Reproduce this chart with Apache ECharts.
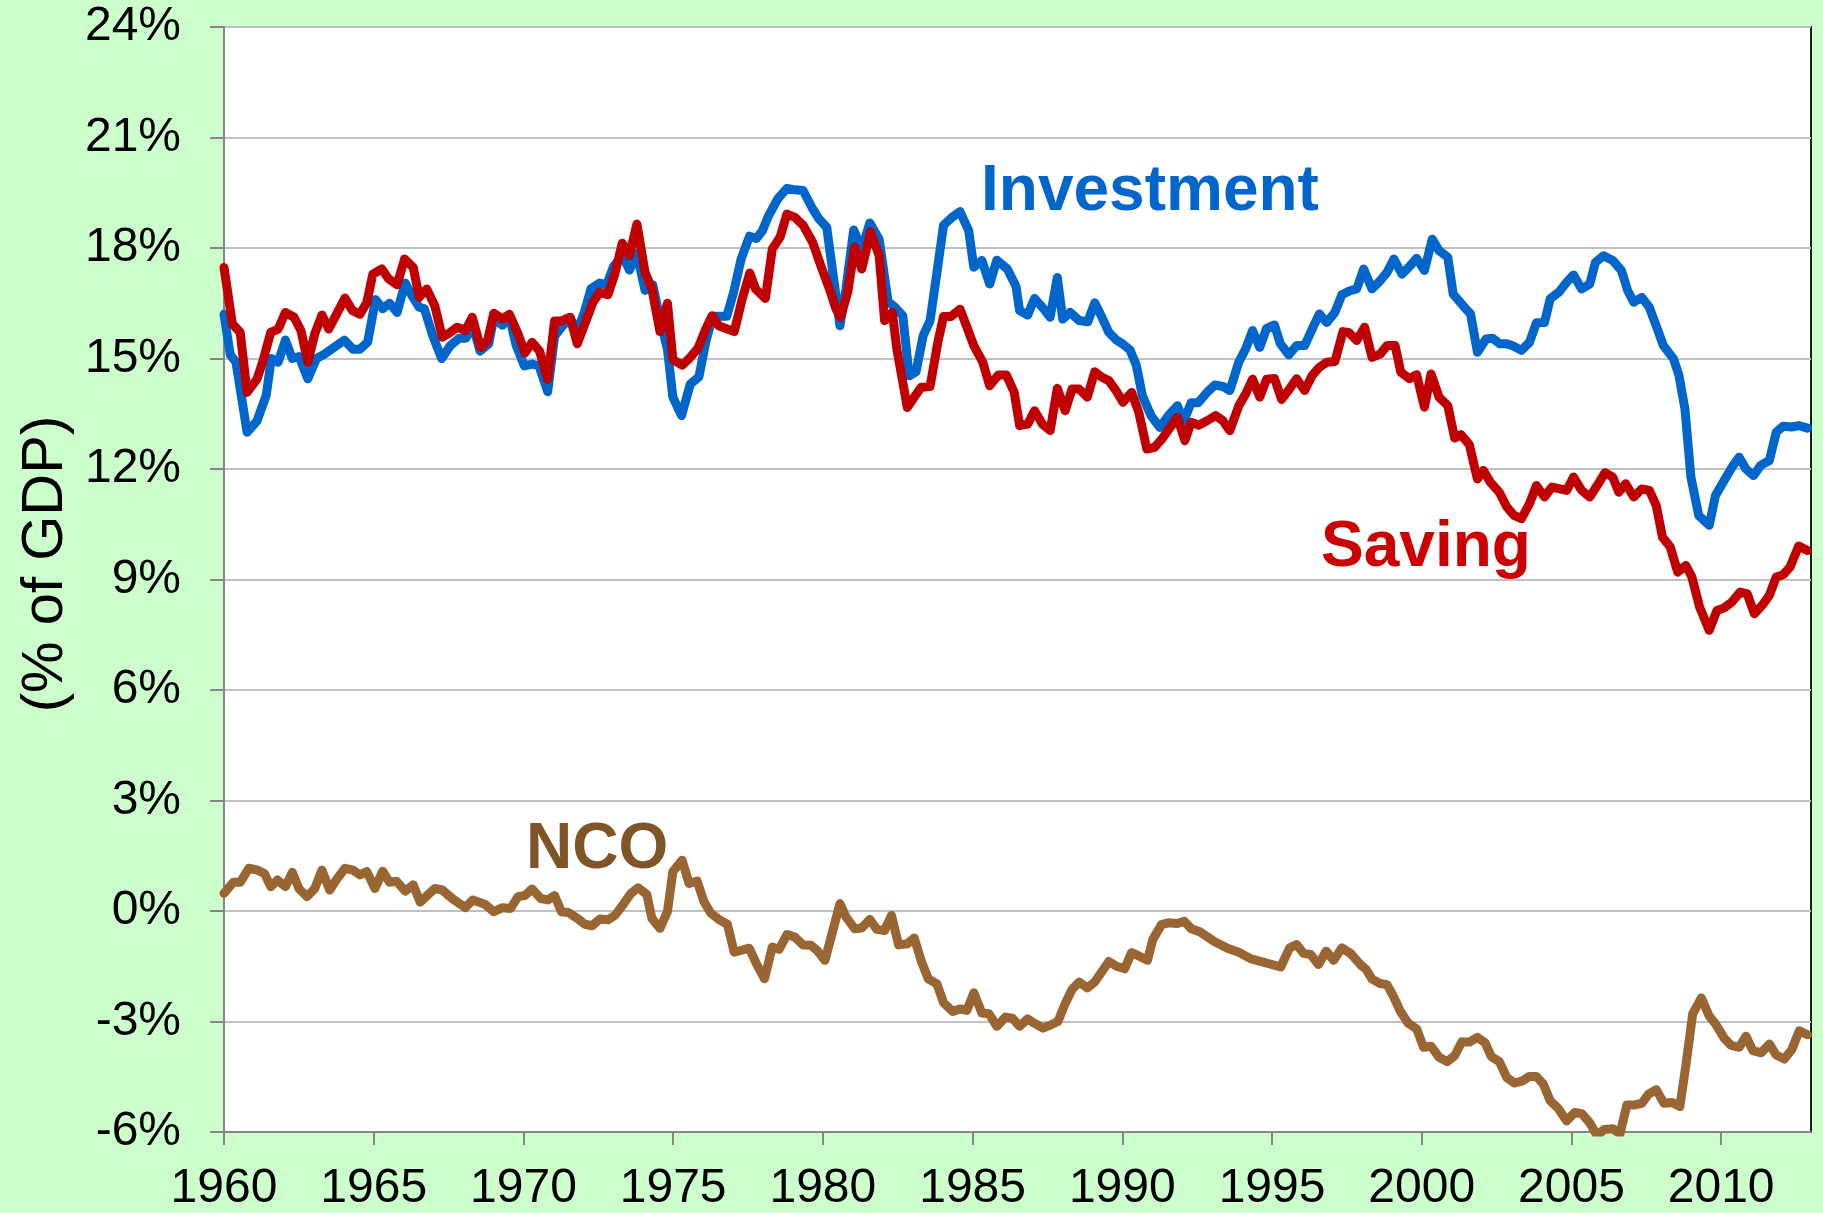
<!DOCTYPE html>
<html>
<head>
<meta charset="utf-8">
<script src="https://cdn.jsdelivr.net/npm/echarts@6/dist/echarts.min.js"></script>
<style>
  html, body { margin: 0; padding: 0; background: #ccffcc; }
  #main { width: 1823px; height: 1213px; }
</style>
</head>
<body>
<div id="main"></div>
<script>
// values, [year, % of GDP]
const investment = [
  [1960.00, 16.2], [1960.21, 15.1], [1960.40, 14.9], [1960.77, 13.0], [1961.10, 13.3], [1961.41, 14.0],
  [1961.58, 15.0], [1961.81, 14.9], [1962.05, 15.5], [1962.28, 15.0], [1962.51, 15.05], [1962.80, 14.45],
  [1963.09, 15.0], [1963.32, 15.1], [1963.67, 15.3], [1964.02, 15.5], [1964.31, 15.25], [1964.54, 15.25],
  [1964.80, 15.45], [1965.06, 16.6], [1965.30, 16.35], [1965.53, 16.5], [1965.78, 16.25], [1966.05, 17.05],
  [1966.28, 16.7], [1966.51, 16.4], [1966.69, 16.35], [1966.98, 15.6], [1967.27, 15.0], [1967.56, 15.35],
  [1967.85, 15.55], [1968.08, 15.55], [1968.31, 15.9], [1968.55, 15.2], [1968.84, 15.4], [1969.01, 16.1],
  [1969.30, 15.9], [1969.53, 16.15], [1969.76, 15.35], [1970.03, 14.8], [1970.29, 14.85], [1970.52, 14.8],
  [1970.81, 14.1], [1971.04, 15.6], [1971.27, 15.85], [1971.56, 16.1], [1971.80, 15.75], [1972.03, 16.25],
  [1972.26, 16.9], [1972.55, 17.05], [1972.78, 17.0], [1973.01, 17.5], [1973.30, 17.8], [1973.54, 17.4],
  [1973.79, 17.85], [1974.06, 16.85], [1974.32, 17.0], [1974.58, 16.0], [1974.81, 15.25], [1974.99, 13.95],
  [1975.28, 13.45], [1975.57, 14.3], [1975.86, 14.5], [1976.09, 15.45], [1976.32, 16.15], [1976.79, 16.15],
  [1977.02, 16.8], [1977.27, 17.7], [1977.55, 18.32], [1977.78, 18.26], [1977.98, 18.47], [1978.19, 18.88],
  [1978.49, 19.33], [1978.80, 19.62], [1979.07, 19.58], [1979.34, 19.56], [1979.66, 19.06], [1979.86, 18.8],
  [1980.13, 18.56], [1980.36, 17.16], [1980.57, 15.89], [1980.77, 16.89], [1981.03, 18.49], [1981.30, 17.97],
  [1981.57, 18.68], [1981.88, 18.24], [1982.18, 16.54], [1982.41, 16.39], [1982.67, 16.16], [1982.88, 14.53],
  [1983.11, 14.64], [1983.35, 15.62], [1983.58, 16.03], [1983.81, 17.34], [1984.03, 18.62], [1984.28, 18.81],
  [1984.58, 18.99], [1984.87, 18.47], [1985.04, 17.48], [1985.31, 17.66], [1985.57, 17.02], [1985.81, 17.67],
  [1986.16, 17.43], [1986.45, 16.96], [1986.57, 16.3], [1986.84, 16.18], [1987.07, 16.63], [1987.33, 16.39],
  [1987.59, 16.12], [1987.83, 17.2], [1988.01, 16.07], [1988.26, 16.25], [1988.56, 16.03], [1988.85, 16.0],
  [1989.08, 16.51], [1989.32, 16.12], [1989.55, 15.71], [1989.79, 15.51], [1990.02, 15.39], [1990.26, 15.23],
  [1990.47, 14.81], [1990.67, 13.99], [1990.96, 13.45], [1991.25, 13.13], [1991.54, 13.45], [1991.84, 13.72],
  [1992.05, 13.3], [1992.30, 13.8], [1992.54, 13.8], [1992.83, 14.08], [1993.09, 14.28], [1993.36, 14.24],
  [1993.59, 14.13], [1993.89, 14.9], [1994.12, 15.26], [1994.35, 15.76], [1994.59, 15.3], [1994.82, 15.82],
  [1995.08, 15.91], [1995.28, 15.4], [1995.56, 15.1], [1995.82, 15.35], [1996.09, 15.35], [1996.34, 15.8],
  [1996.58, 16.21], [1996.83, 15.98], [1997.10, 16.25], [1997.33, 16.73], [1997.60, 16.84], [1997.83, 16.89],
  [1998.06, 17.43], [1998.34, 16.89], [1998.61, 17.11], [1998.84, 17.34], [1999.07, 17.7], [1999.34, 17.29],
  [1999.57, 17.48], [1999.83, 17.72], [2000.09, 17.39], [2000.35, 18.24], [2000.58, 17.93], [2000.87, 17.75],
  [2001.05, 16.75], [2001.28, 16.53], [2001.47, 16.35], [2001.63, 16.21], [2001.86, 15.17], [2002.15, 15.53],
  [2002.36, 15.55], [2002.61, 15.4], [2002.84, 15.4], [2003.08, 15.33], [2003.33, 15.22], [2003.60, 15.44],
  [2003.83, 15.97], [2004.10, 15.98], [2004.29, 16.62], [2004.58, 16.8], [2004.84, 17.07], [2005.07, 17.27],
  [2005.34, 16.89], [2005.61, 17.02], [2005.80, 17.61], [2006.07, 17.79], [2006.38, 17.66], [2006.67, 17.39],
  [2006.88, 16.84], [2007.08, 16.53], [2007.35, 16.66], [2007.60, 16.39], [2007.83, 15.89], [2008.07, 15.35],
  [2008.41, 14.99], [2008.59, 14.54], [2008.79, 13.63], [2008.99, 11.78], [2009.25, 10.74], [2009.60, 10.47],
  [2009.81, 11.28], [2010.10, 11.69], [2010.36, 12.05], [2010.60, 12.32], [2010.83, 12.0], [2011.08, 11.82],
  [2011.32, 12.1], [2011.61, 12.23], [2011.84, 13.0], [2012.07, 13.16], [2012.36, 13.14], [2012.59, 13.18],
  [2012.88, 13.11]
]

const saving = [
  [1960.00, 17.47], [1960.28, 15.94], [1960.54, 15.71], [1960.77, 14.08], [1961.10, 14.44], [1961.29, 14.9],
  [1961.56, 15.71], [1961.81, 15.8], [1962.05, 16.25], [1962.34, 16.12], [1962.57, 15.76], [1962.80, 14.9],
  [1963.03, 15.67], [1963.27, 16.18], [1963.50, 15.8], [1963.79, 16.25], [1964.04, 16.64], [1964.29, 16.3],
  [1964.54, 16.2], [1964.77, 16.52], [1964.97, 17.29], [1965.27, 17.43], [1965.50, 17.16], [1965.78, 17.0],
  [1966.03, 17.7], [1966.32, 17.47], [1966.52, 16.66], [1966.77, 16.89], [1967.04, 16.43], [1967.29, 15.58],
  [1967.56, 15.71], [1967.79, 15.85], [1968.06, 15.76], [1968.29, 16.12], [1968.57, 15.3], [1968.80, 15.48],
  [1969.01, 16.23], [1969.30, 16.07], [1969.53, 16.2], [1969.82, 15.67], [1970.05, 15.15], [1970.29, 15.44],
  [1970.54, 15.2], [1970.81, 14.44], [1971.04, 16.02], [1971.27, 16.02], [1971.56, 16.12], [1971.80, 15.4],
  [1972.05, 15.94], [1972.32, 16.52], [1972.55, 16.8], [1972.82, 16.73], [1973.05, 17.29], [1973.30, 18.13],
  [1973.54, 17.8], [1973.79, 18.65], [1974.06, 17.34], [1974.29, 16.89], [1974.56, 15.73], [1974.81, 16.5],
  [1974.99, 14.97], [1975.30, 14.82], [1975.57, 15.03], [1975.83, 15.28], [1976.09, 15.8], [1976.30, 16.16],
  [1976.52, 15.89], [1977.04, 15.73], [1977.31, 16.63], [1977.56, 17.32], [1977.75, 16.89], [1978.08, 16.63],
  [1978.31, 17.97], [1978.57, 18.29], [1978.80, 18.92], [1979.07, 18.83], [1979.34, 18.62], [1979.66, 18.15],
  [1979.95, 17.48], [1980.24, 16.84], [1980.44, 16.34], [1980.59, 16.12], [1980.83, 16.8], [1981.06, 18.02],
  [1981.30, 17.43], [1981.59, 18.44], [1981.88, 17.79], [1982.06, 16.03], [1982.32, 16.25], [1982.47, 15.26],
  [1982.82, 13.67], [1983.05, 13.95], [1983.29, 14.22], [1983.58, 14.24], [1983.84, 15.44], [1984.03, 16.14],
  [1984.28, 16.14], [1984.58, 16.34], [1984.81, 15.85], [1985.04, 15.35], [1985.34, 14.9], [1985.57, 14.26],
  [1985.86, 14.55], [1986.13, 14.55], [1986.39, 14.08], [1986.57, 13.18], [1986.84, 13.22], [1987.07, 13.58],
  [1987.33, 13.22], [1987.59, 13.04], [1987.83, 14.19], [1988.09, 13.58], [1988.32, 14.17], [1988.56, 14.17],
  [1988.83, 13.95], [1989.08, 14.64], [1989.32, 14.49], [1989.55, 14.4], [1989.79, 14.13], [1990.02, 13.81],
  [1990.31, 14.08], [1990.55, 13.54], [1990.82, 12.54], [1991.08, 12.59], [1991.31, 12.8], [1991.60, 13.13],
  [1991.84, 13.4], [1992.09, 12.77], [1992.30, 13.27], [1992.54, 13.19], [1992.83, 13.31], [1993.12, 13.45],
  [1993.36, 13.31], [1993.59, 13.04], [1993.89, 13.72], [1994.12, 14.04], [1994.35, 14.44], [1994.59, 13.95],
  [1994.82, 14.44], [1995.08, 14.46], [1995.32, 13.89], [1995.59, 14.18], [1995.82, 14.45], [1996.09, 14.13],
  [1996.34, 14.54], [1996.58, 14.76], [1996.83, 14.9], [1997.10, 14.92], [1997.37, 15.73], [1997.56, 15.71],
  [1997.83, 15.49], [1998.09, 15.85], [1998.34, 15.03], [1998.61, 15.12], [1998.84, 15.35], [1999.11, 15.35],
  [1999.30, 14.63], [1999.59, 14.45], [1999.83, 14.56], [2000.09, 13.68], [2000.31, 14.58], [2000.58, 13.95],
  [2000.87, 13.72], [2001.10, 12.84], [2001.31, 12.93], [2001.59, 12.66], [2001.86, 11.73], [2002.06, 11.96],
  [2002.29, 11.64], [2002.59, 11.37], [2002.84, 10.97], [2003.08, 10.74], [2003.33, 10.65], [2003.60, 11.06],
  [2003.83, 11.55], [2004.10, 11.24], [2004.35, 11.51], [2004.84, 11.42], [2005.07, 11.78], [2005.34, 11.42],
  [2005.61, 11.24], [2005.86, 11.55], [2006.12, 11.9], [2006.38, 11.78], [2006.58, 11.37], [2006.81, 11.6],
  [2007.08, 11.24], [2007.35, 11.46], [2007.60, 11.42], [2007.83, 11.01], [2008.04, 10.15], [2008.30, 9.88],
  [2008.55, 9.2], [2008.82, 9.38], [2009.02, 9.07], [2009.28, 8.25], [2009.60, 7.62], [2009.86, 8.16],
  [2010.10, 8.23], [2010.36, 8.39], [2010.64, 8.66], [2010.87, 8.61], [2011.11, 8.07], [2011.37, 8.3],
  [2011.61, 8.57], [2011.84, 9.07], [2012.07, 9.13], [2012.30, 9.34], [2012.59, 9.91], [2012.88, 9.79]
]

const nco = [
  [1960.00, 0.48], [1960.31, 0.78], [1960.54, 0.78], [1960.83, 1.16], [1961.12, 1.11], [1961.35, 1.02],
  [1961.56, 0.66], [1961.79, 0.84], [1962.05, 0.66], [1962.28, 1.05], [1962.51, 0.6], [1962.77, 0.39],
  [1963.03, 0.61], [1963.27, 1.11], [1963.53, 0.57], [1963.79, 0.89], [1964.04, 1.16], [1964.31, 1.11],
  [1964.54, 0.98], [1964.77, 1.07], [1965.04, 0.61], [1965.30, 1.08], [1965.53, 0.78], [1965.76, 0.81],
  [1966.05, 0.54], [1966.32, 0.71], [1966.55, 0.24], [1966.80, 0.43], [1967.04, 0.61], [1967.29, 0.57],
  [1967.62, 0.34], [1968.06, 0.09], [1968.31, 0.3], [1968.72, 0.18], [1969.01, -0.02], [1969.30, 0.09],
  [1969.57, 0.07], [1969.82, 0.39], [1970.05, 0.42], [1970.29, 0.6], [1970.58, 0.34], [1970.81, 0.3],
  [1971.04, 0.42], [1971.27, -0.02], [1971.50, -0.04], [1971.80, -0.2], [1972.05, -0.36], [1972.29, -0.4],
  [1972.55, -0.22], [1972.82, -0.24], [1973.07, -0.11], [1973.36, 0.21], [1973.59, 0.48], [1973.83, 0.63],
  [1974.12, 0.45], [1974.29, -0.2], [1974.56, -0.47], [1974.81, -0.02], [1974.99, 1.07], [1975.30, 1.38],
  [1975.53, 0.75], [1975.80, 0.81], [1976.03, 0.25], [1976.26, -0.06], [1976.55, -0.24], [1976.81, -0.36],
  [1977.04, -1.12], [1977.54, -1.01], [1977.78, -1.43], [1978.05, -1.84], [1978.31, -0.98], [1978.54, -1.04],
  [1978.80, -0.64], [1979.07, -0.71], [1979.34, -0.92], [1979.60, -0.93], [1979.81, -1.07], [1980.07, -1.34],
  [1980.32, -0.57], [1980.57, 0.2], [1980.77, -0.16], [1981.06, -0.48], [1981.30, -0.46], [1981.57, -0.23],
  [1981.80, -0.5], [1982.06, -0.53], [1982.29, -0.12], [1982.53, -0.92], [1982.82, -0.89], [1983.05, -0.73],
  [1983.29, -1.37], [1983.52, -1.84], [1983.81, -1.98], [1984.03, -2.49], [1984.34, -2.73], [1984.58, -2.66],
  [1984.81, -2.7], [1985.04, -2.22], [1985.31, -2.77], [1985.55, -2.79], [1985.81, -3.13], [1986.10, -2.88],
  [1986.33, -2.91], [1986.57, -3.13], [1986.84, -2.93], [1987.09, -3.06], [1987.35, -3.18], [1987.62, -3.09],
  [1987.85, -3.0], [1988.09, -2.52], [1988.32, -2.13], [1988.56, -1.93], [1988.83, -2.09], [1989.08, -1.93],
  [1989.32, -1.64], [1989.55, -1.37], [1989.81, -1.5], [1990.08, -1.57], [1990.31, -1.13], [1990.55, -1.22],
  [1990.84, -1.34], [1991.02, -0.77], [1991.31, -0.37], [1991.54, -0.32], [1991.84, -0.34], [1992.07, -0.28],
  [1992.30, -0.48], [1992.60, -0.57], [1993.07, -0.83], [1993.53, -1.02], [1993.89, -1.12], [1994.30, -1.3],
  [1994.71, -1.39], [1995.29, -1.52], [1995.59, -1.0], [1995.82, -0.91], [1996.05, -1.15], [1996.29, -1.18],
  [1996.55, -1.45], [1996.81, -1.09], [1997.06, -1.34], [1997.33, -1.0], [1997.62, -1.15], [1997.97, -1.47],
  [1998.14, -1.58], [1998.34, -1.85], [1998.61, -1.97], [1998.84, -2.0], [1999.04, -2.29], [1999.27, -2.7],
  [1999.54, -3.04], [1999.83, -3.2], [2000.06, -3.7], [2000.31, -3.67], [2000.58, -3.97], [2000.85, -4.09],
  [2001.10, -3.93], [2001.34, -3.55], [2001.59, -3.56], [2001.86, -3.43], [2002.12, -3.58], [2002.32, -3.95],
  [2002.59, -4.09], [2002.84, -4.52], [2003.10, -4.67], [2003.37, -4.61], [2003.60, -4.49], [2003.83, -4.49],
  [2004.06, -4.7], [2004.29, -5.15], [2004.56, -5.36], [2004.84, -5.7], [2005.11, -5.47], [2005.34, -5.5],
  [2005.61, -5.75], [2005.86, -6.1], [2006.09, -5.93], [2006.38, -5.91], [2006.62, -6.05], [2006.85, -5.27],
  [2007.08, -5.27], [2007.35, -5.22], [2007.58, -4.97], [2007.83, -4.85], [2008.09, -5.22], [2008.36, -5.2],
  [2008.62, -5.31], [2008.82, -4.2], [2009.05, -2.79], [2009.34, -2.36], [2009.60, -2.85], [2009.83, -3.09],
  [2010.10, -3.45], [2010.33, -3.65], [2010.60, -3.7], [2010.83, -3.4], [2011.06, -3.79], [2011.34, -3.85],
  [2011.61, -3.61], [2011.84, -3.91], [2012.11, -4.02], [2012.36, -3.76], [2012.61, -3.25], [2012.88, -3.36]
]

const FONT = '"Liberation Sans", Arial, sans-serif'

let chart = echarts.init(document.getElementById('main'))

function lineSeries (name, data, color) {
  return {
    name: name,
    type: 'line',
    data: data,
    symbol: 'none',
    showSymbol: false,
    lineStyle: { color: color, width: 9, join: 'round', cap: 'round' },
    itemStyle: { color: color },
  }
}

function label (text, x, y, color) {
  return {
    type: 'text',
    x: x,
    y: y,
    z: 100,
    style: {
      text: text,
      fill: color,
      font: 'bold 64px ' + FONT,
      align: 'left',
      verticalAlign: 'middle',
      textAlign: 'left',
      textVerticalAlign: 'middle',
    },
  }
}

chart.setOption({
  animation: false,
  backgroundColor: '#ccffcc',
  grid: {
    left: 224,
    right: 12,
    top: 27,
    bottom: 80,
    show: true,
    backgroundColor: '#ffffff',
    borderColor: '#1a1a1a',
    borderWidth: 2,
  },
  xAxis: {
    type: 'value',
    min: 1960,
    max: 2013,
    interval: 5,
    axisLine: { show: true, onZero: false, lineStyle: { color: '#868686', width: 2 } },
    axisTick: { show: true, inside: false, length: 13, lineStyle: { color: '#868686', width: 2 } },
    axisLabel: {
      color: '#000',
      fontSize: 48,
      fontFamily: FONT,
      margin: 33,
      showMaxLabel: false,
      formatter: v => String(v),
    },
    splitLine: { show: false },
  },
  yAxis: {
    type: 'value',
    min: -6,
    max: 24,
    interval: 3,
    axisLine: { show: true, onZero: false, lineStyle: { color: '#868686', width: 2 } },
    axisTick: { show: true, inside: false, length: 14, lineStyle: { color: '#868686', width: 2 } },
    axisLabel: {
      color: '#000',
      fontSize: 48,
      fontFamily: FONT,
      margin: 43,
      formatter: '{value}%',
    },
    splitLine: { show: true, lineStyle: { color: '#c0c0c0', width: 2 } },
  },
  series: [
    lineSeries('Investment', investment, '#0066cc'),
    lineSeries('Saving', saving, '#c00000'),
    lineSeries('NCO', nco, '#996633'),
  ],
  graphic: [
    {
      type: 'text',
      x: 46,
      y: 564,
      rotation: Math.PI / 2,
      style: {
        text: '(% of GDP)',
        fill: '#000',
        font: '58px ' + FONT,
        align: 'center',
        verticalAlign: 'middle',
        textAlign: 'center',
        textVerticalAlign: 'middle',
      },
    },
    label('Investment', 981, 192, '#0066cc'),
    label('Saving', 1321, 548, '#cc0000'),
    label('NCO', 526, 850, '#7f5427'),
  ],
})
</script>
</body>
</html>
